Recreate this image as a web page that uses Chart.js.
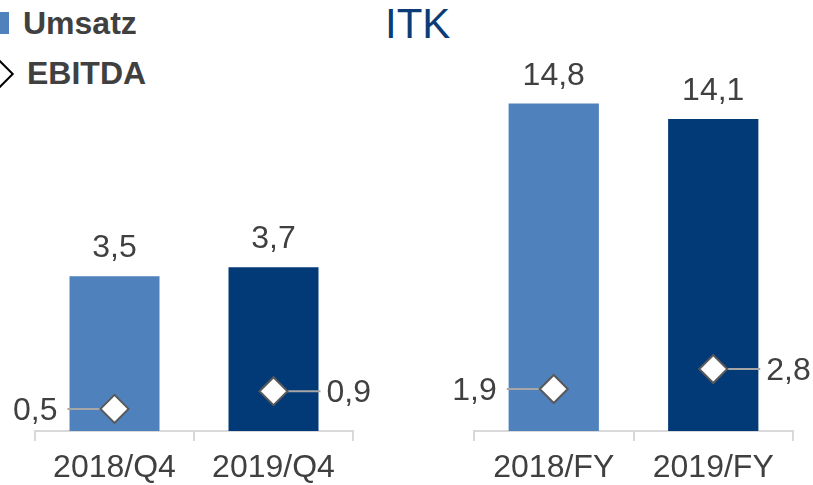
<!DOCTYPE html>
<html>
<head>
<meta charset="utf-8">
<script src="https://cdn.jsdelivr.net/npm/chart.js@4"></script>
<style>
  html, body { margin: 0; padding: 0; background: #fff; }
  body { width: 813px; height: 485px; position: relative; overflow: hidden; font-family: "Liberation Sans", Arial, sans-serif; }
  .txt { position: absolute; line-height: 1; white-space: nowrap; }
  .leg { font-size: 32px; font-weight: bold; color: #404040; }
  #title { font-size: 42px; color: #0b3c78; left: 385px; top: 3px; }
  #sq { position: absolute; left: -13px; top: 12px; width: 22px; height: 22px; background: #4f81bd; }
  #dia { position: absolute; left: -10px; top: 64px; width: 16px; height: 16px; border: 2px solid #000; background: #fff; transform: rotate(45deg); }
  canvas { position: absolute; top: 0; }
</style>
</head>
<body>
<div id="sq"></div>
<div id="dia"></div>
<div class="txt leg" style="left:23px;top:7px;">Umsatz</div>
<div class="txt leg" style="left:27px;top:57px;">EBITDA</div>
<div class="txt" id="title">ITK</div>
<div style="position:absolute;left:0;top:0;width:400px;height:485px;"><canvas id="q4"></canvas></div>
<div style="position:absolute;left:420px;top:0;width:393px;height:485px;"><canvas id="fy"></canvas></div>
<script>
// data
var q4Labels = ['2018/Q4', '2019/Q4'];
var q4Umsatz = [3.5, 3.7];
var q4Ebitda = [0.5, 0.9];
var q4Max = 8;

var fyLabels = ['2018/FY', '2019/FY'];
var fyUmsatz = [14.8, 14.1];
var fyEbitda = [1.9, 2.8];
var fyMax = 16;

var ebitdaSide = ['left', 'right'];
var barColors = ['#4f81bd', '#023a78'];

var FONT = '"Liberation Sans", Arial, sans-serif';
var TEXT = '#404040';

function fmt(v) { return v.toFixed(1).replace('.', ','); }

// value labels above bars, leader lines + labels for EBITDA
var labelPlugin = {
    id: 'labels',
    beforeDatasetDraw: function(chart, args) {
        if (args.index !== 1) return;
        var ctx = chart.ctx;
        var pts = chart.getDatasetMeta(1).data;
        ctx.save();
        ctx.strokeStyle = '#a6a6a6';
        ctx.lineWidth = 2;
        pts.forEach(function(p, i) {
            var dir = ebitdaSide[i] === 'left' ? -1 : 1;
            ctx.beginPath();
            ctx.moveTo(p.x, p.y);
            ctx.lineTo(p.x + dir * 47, p.y);
            ctx.stroke();
        });
        ctx.restore();
    },
    afterDatasetsDraw: function(chart) {
        var ctx = chart.ctx;
        ctx.save();
        ctx.font = '32px ' + FONT;
        ctx.fillStyle = TEXT;
        var bars = chart.getDatasetMeta(0).data;
        var bv = chart.data.datasets[0].data;
        ctx.textAlign = 'center';
        ctx.textBaseline = 'alphabetic';
        bars.forEach(function(b, i) {
            ctx.fillText(fmt(bv[i]), b.x, b.y - 19);
        });
        var pts = chart.getDatasetMeta(1).data;
        var pv = chart.data.datasets[1].data;
        ctx.textBaseline = 'middle';
        pts.forEach(function(p, i) {
            if (ebitdaSide[i] === 'left') {
                ctx.textAlign = 'right';
                ctx.fillText(fmt(pv[i]), p.x - 57, p.y + 2);
            } else {
                ctx.textAlign = 'left';
                ctx.fillText(fmt(pv[i]), p.x + 53, p.y + 2);
            }
        });
        ctx.restore();
    }
};

function makeChart(id, labels, umsatz, ebitda, yMax, padL, padR) {
    return new Chart(document.getElementById(id), {
        type: 'bar',
        data: {
            labels: labels,
            datasets: [{
                type: 'bar',
                label: 'Umsatz',
                data: umsatz,
                backgroundColor: barColors,
                categoryPercentage: 1,
                barPercentage: 0.566,
                order: 2
            }, {
                type: 'line',
                label: 'EBITDA',
                data: ebitda,
                showLine: false,
                pointStyle: 'rectRot',
                pointRadius: 14,
                pointBackgroundColor: '#fff',
                pointBorderColor: '#595959',
                pointBorderWidth: 2,
                order: 1
            }]
        },
        options: {
            responsive: true,
            maintainAspectRatio: false,
            animation: false,
            layout: { padding: { left: padL, right: padR, top: 77, bottom: 0 } },
            plugins: { legend: { display: false }, tooltip: { enabled: false } },
            scales: {
                x: {
                    grid: { display: true, drawOnChartArea: false, drawTicks: true, tickLength: 10, color: '#d9d9d9', lineWidth: 2, offset: true },
                    border: { display: true, color: '#d9d9d9', width: 2 },
                    ticks: { color: TEXT, font: { family: FONT, size: 32 }, padding: 8 },
                    afterFit: function(scale) { scale.height = 54; }
                },
                y: { display: false, min: 0, max: yMax }
            }
        },
        plugins: [labelPlugin]
    });
}

makeChart('q4', q4Labels, q4Umsatz, q4Ebitda, q4Max, 35, 47);
makeChart('fy', fyLabels, fyUmsatz, fyEbitda, fyMax, 54, 20);
</script>
</body>
</html>
